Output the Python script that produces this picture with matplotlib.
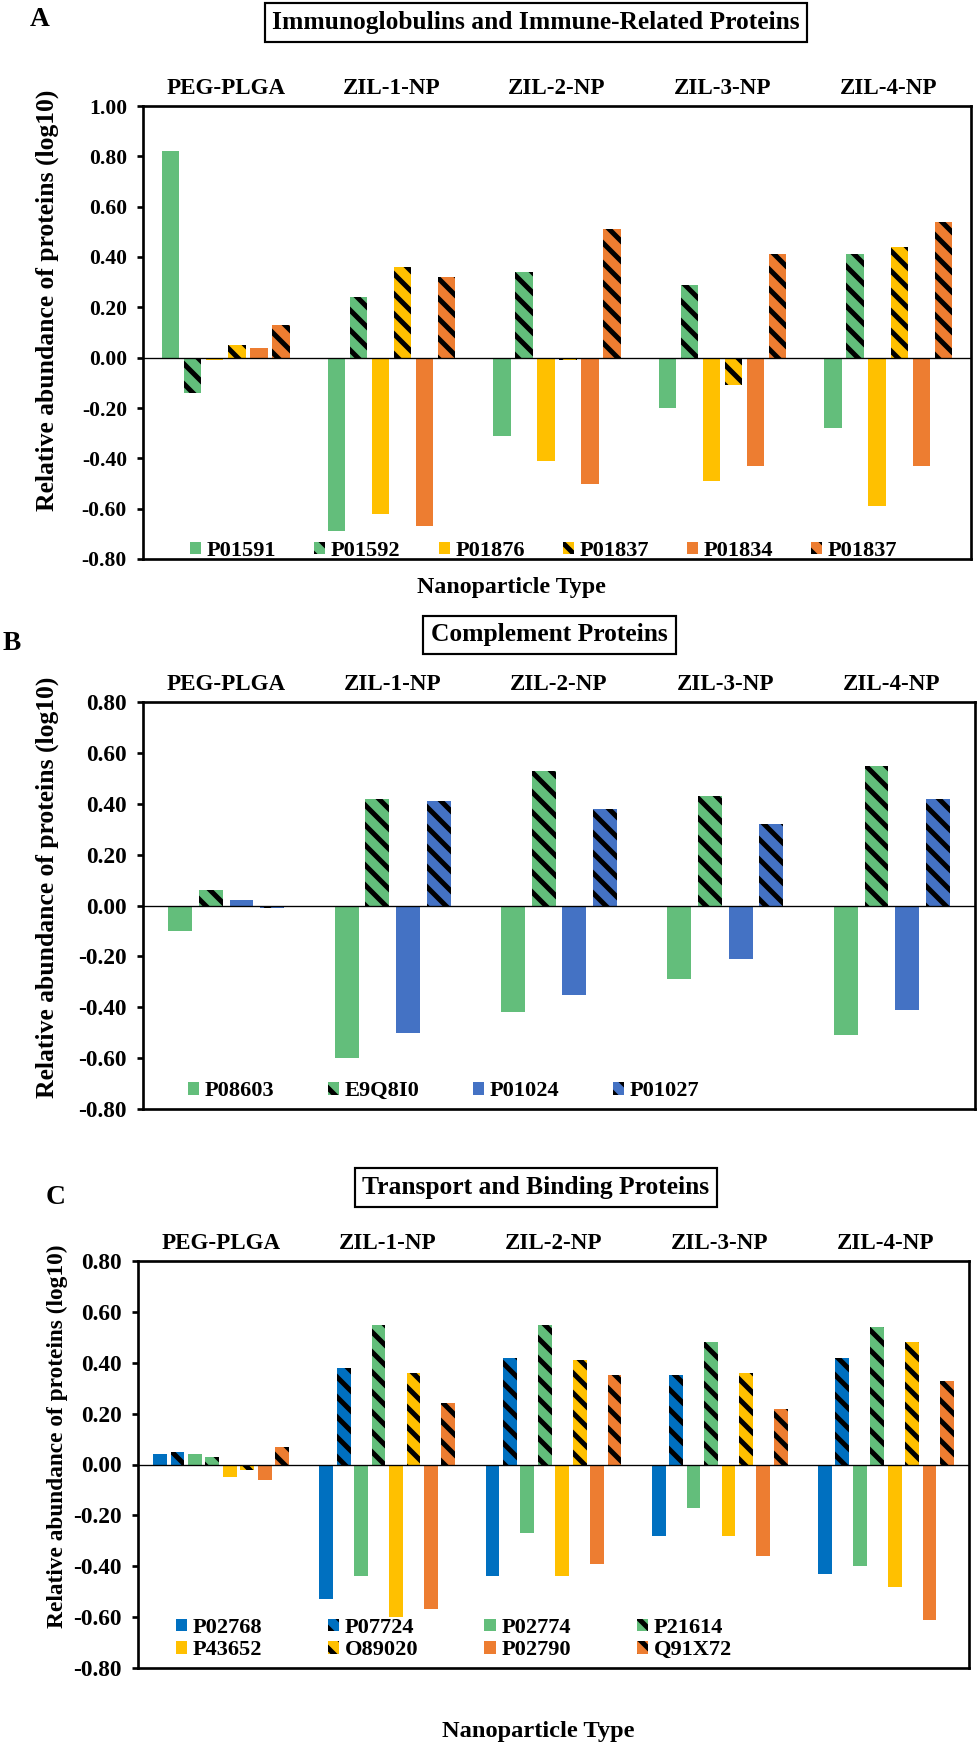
import numpy as np
import matplotlib
matplotlib.use('Agg')
from matplotlib import pyplot as plt

plt.rcParams['font.family'] = ['Liberation Serif', 'DejaVu Serif']
plt.rcParams['font.weight'] = 'bold'
plt.rcParams['hatch.color'] = 'black'
plt.rcParams['hatch.linewidth'] = 3.0

DPI = 120

cats = ['PEG-PLGA', 'ZIL-1-NP', 'ZIL-2-NP', 'ZIL-3-NP', 'ZIL-4-NP']

GREEN = '#63BE7B'
YELLOW = '#FFC000'
ORANGE = '#ED7D31'
BLUE_B = '#4472C4'
BLUE_C = '#0070C0'

# panel A - immunoglobulins
a_names = ['P01591', 'P01592', 'P01876', 'P01837', 'P01834', 'P01837']
a_colors = [GREEN, GREEN, YELLOW, YELLOW, ORANGE, ORANGE]
a_hatched = [False, True, False, True, False, True]
a_vals = [
    [0.82, -0.69, -0.31, -0.20, -0.28],
    [-0.14, 0.24, 0.34, 0.29, 0.41],
    [-0.01, -0.62, -0.41, -0.49, -0.59],
    [0.05, 0.36, -0.01, -0.11, 0.44],
    [0.04, -0.67, -0.50, -0.43, -0.43],
    [0.13, 0.32, 0.51, 0.41, 0.54],
]

# panel B - complement
b_names = ['P08603', 'E9Q8I0', 'P01024', 'P01027']
b_colors = [GREEN, GREEN, BLUE_B, BLUE_B]
b_hatched = [False, True, False, True]
b_vals = [
    [-0.10, -0.60, -0.42, -0.29, -0.51],
    [0.06, 0.42, 0.53, 0.43, 0.55],
    [0.02, -0.50, -0.35, -0.21, -0.41],
    [-0.01, 0.41, 0.38, 0.32, 0.42],
]

# panel C - transport and binding
c_names = ['P02768', 'P07724', 'P02774', 'P21614', 'P43652', 'O89020', 'P02790', 'Q91X72']
c_colors = [BLUE_C, BLUE_C, GREEN, GREEN, YELLOW, YELLOW, ORANGE, ORANGE]
c_hatched = [False, True, False, True, False, True, False, True]
c_vals = [
    [0.04, -0.53, -0.44, -0.28, -0.43],
    [0.05, 0.38, 0.42, 0.35, 0.42],
    [0.04, -0.44, -0.27, -0.17, -0.40],
    [0.03, 0.55, 0.55, 0.48, 0.54],
    [-0.05, -0.60, -0.44, -0.28, -0.48],
    [-0.02, 0.36, 0.41, 0.36, 0.48],
    [-0.06, -0.57, -0.39, -0.36, -0.61],
    [0.07, 0.24, 0.35, 0.22, 0.33],
]

W, H = 979, 1745
fig = plt.figure(figsize=(W / DPI, H / DPI), dpi=DPI)


def fx(px):
    return px / W


def fy(py):
    return 1 - py / H


def panel(rect, names, colors, hatched, vals, pitch, width, ymax, tick_fs,
          leg_xy, leg_cols, colsp, order=None):
    ax = fig.add_axes(rect)
    x = np.arange(len(cats))
    n = len(names)
    bars = []
    for i in range(n):
        off = (i - (n - 1) / 2) * pitch
        b = ax.bar(x + off, vals[i], width, color=colors[i], linewidth=0,
                   hatch='\\\\' if hatched[i] else None, label=names[i], zorder=2)
        bars.append(b)
    ax.axhline(0, color='black', lw=0.8, zorder=3)
    ax.set_xlim(-0.5, 4.5)
    ax.set_ylim(-0.8, ymax)
    yt = np.round(np.arange(-0.8, ymax + 0.01, 0.2), 2) + 0.0
    ax.set_yticks(yt)
    ax.set_yticklabels(['%.2f' % abs(v) if abs(v) < 1e-9 else '%.2f' % v for v in yt])
    ax.xaxis.tick_top()
    ax.set_xticks(x)
    ax.set_xticklabels(cats, fontsize=13.8, fontweight='bold')
    ax.tick_params(axis='x', length=0, pad=4)
    ax.tick_params(axis='y', length=3.6, width=1.6, pad=6, labelsize=tick_fs)
    for s in ax.spines.values():
        s.set_linewidth(1.6)
    if order is None:
        order = list(range(n))
    ax.legend([bars[k] for k in order], [names[k] for k in order],
              loc='center', bbox_to_anchor=leg_xy, ncol=leg_cols,
              frameon=False, fontsize=13.4, handlelength=0.5,
              handleheight=0.5, handletextpad=0.25, columnspacing=colsp,
              labelspacing=0.1, borderpad=0.2)
    return ax


# A
axA = panel([fx(143), fy(559), fx(828), 453 / H], a_names, a_colors, a_hatched,
            a_vals, 0.133, 0.105, 1.0, 13, (0.484, 0.018), 6, 1.7)
# B
axB = panel([fx(143), fy(1109), fx(832), 407 / H], b_names, b_colors, b_hatched,
            b_vals, 0.184, 0.144, 0.8, 14, (0.361, 0.044), 4, 2.4)
# C
axC = panel([fx(138), fy(1668), fx(831), 407 / H], c_names, c_colors, c_hatched,
            c_vals, 0.105, 0.083, 0.8, 14, (0.380, 0.071), 4, 2.95,
            order=[0, 4, 1, 5, 2, 6, 3, 7])

box = dict(boxstyle='square,pad=0.3', facecolor='white', edgecolor='black', lw=1.3)
fig.text(fx(536), fy(22.5), 'Immunoglobulins and Immune-Related Proteins',
         fontsize=15.3, ha='center', va='center', bbox=box)
fig.text(fx(549.5), fy(635), 'Complement Proteins',
         fontsize=15.3, ha='center', va='center', bbox=box)
fig.text(fx(536), fy(1187.5), 'Transport and Binding Proteins',
         fontsize=15.3, ha='center', va='center', bbox=box)

fig.text(fx(40), fy(20), 'A', fontsize=16.5, ha='center', va='center')
fig.text(fx(12), fy(643), 'B', fontsize=16.5, ha='center', va='center')
fig.text(fx(56), fy(1197), 'C', fontsize=16.5, ha='center', va='center')

ylab = 'Relative abundance of proteins (log10)'
fig.text(fx(47), fy(300), ylab, fontsize=15.4, rotation=90, ha='center', va='center')
fig.text(fx(47), fy(887), ylab, fontsize=15.4, rotation=90, ha='center', va='center')
fig.text(fx(57), fy(1436), ylab, fontsize=14, rotation=90, ha='center', va='center')

fig.text(fx(511), fy(588), 'Nanoparticle Type', fontsize=14.3, ha='center', va='center')
fig.text(fx(538), fy(1732), 'Nanoparticle Type', fontsize=14.6, ha='center', va='center')

fig.savefig('out.png', dpi=DPI)
